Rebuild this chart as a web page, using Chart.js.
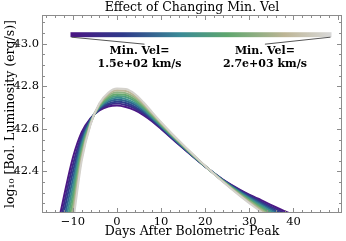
<!DOCTYPE html>
<html>
<head>
<meta charset="utf-8">
<script src="https://cdn.jsdelivr.net/npm/chart.js@4"></script>
<style>
  body { margin: 0; background: #fff; }
  #grafico { display: block; }
</style>
</head>
<body>
<canvas id="grafico" width="346" height="241"></canvas>
<script>
// dias depois do pico bolometrico
const dias = [-14, -12, -10, -8, -6, -4, -2, 0, 2, 4, 6, 8, 10, 12, 14, 16, 18, 20, 24, 28, 32, 36, 40, 44];

// log10 da luminosidade, uma curva por velocidade minima (1.5e2 -> 2.7e3 km/s)
const lumVel0 = [42.09, 42.285, 42.465, 42.585, 42.65, 42.687, 42.705, 42.71, 42.703, 42.688, 42.665, 42.635, 42.60, 42.563, 42.527, 42.491, 42.456, 42.423, 42.362, 42.313, 42.272, 42.232, 42.195, 42.158];
const lumVel1 = [42.047, 42.248, 42.431, 42.57, 42.647, 42.691, 42.712, 42.719, 42.712, 42.697, 42.672, 42.64, 42.604, 42.566, 42.529, 42.493, 42.457, 42.423, 42.361, 42.31, 42.266, 42.224, 42.185, 42.147];
const lumVel2 = [42.003, 42.211, 42.397, 42.555, 42.643, 42.694, 42.719, 42.728, 42.722, 42.705, 42.678, 42.645, 42.607, 42.569, 42.531, 42.494, 42.458, 42.424, 42.36, 42.306, 42.26, 42.216, 42.176, 42.135];
const lumVel3 = [41.96, 42.173, 42.363, 42.54, 42.64, 42.698, 42.727, 42.737, 42.731, 42.714, 42.685, 42.649, 42.611, 42.571, 42.533, 42.496, 42.459, 42.424, 42.359, 42.303, 42.255, 42.209, 42.166, 42.124];
const lumVel4 = [41.917, 42.136, 42.329, 42.525, 42.637, 42.702, 42.734, 42.746, 42.74, 42.722, 42.692, 42.654, 42.614, 42.574, 42.535, 42.497, 42.46, 42.424, 42.358, 42.30, 42.249, 42.201, 42.156, 42.112];
const lumVel5 = [41.873, 42.099, 42.296, 42.51, 42.633, 42.705, 42.741, 42.754, 42.75, 42.731, 42.698, 42.659, 42.618, 42.577, 42.538, 42.499, 42.461, 42.425, 42.356, 42.296, 42.243, 42.193, 42.147, 42.101];
const lumVel6 = [41.83, 42.062, 42.262, 42.495, 42.63, 42.709, 42.748, 42.763, 42.759, 42.739, 42.705, 42.664, 42.621, 42.58, 42.54, 42.50, 42.462, 42.425, 42.355, 42.293, 42.237, 42.185, 42.137, 42.09];
const lumVel7 = [41.787, 42.025, 42.228, 42.48, 42.627, 42.713, 42.756, 42.772, 42.768, 42.748, 42.712, 42.668, 42.625, 42.582, 42.542, 42.502, 42.463, 42.425, 42.354, 42.29, 42.232, 42.178, 42.127, 42.078];
const lumVel8 = [41.743, 41.988, 42.194, 42.465, 42.623, 42.716, 42.763, 42.781, 42.778, 42.756, 42.718, 42.673, 42.628, 42.585, 42.544, 42.503, 42.464, 42.426, 42.353, 42.286, 42.226, 42.17, 42.118, 42.067];
const lumVel9 = [41.7, 41.95, 42.16, 42.45, 42.62, 42.72, 42.77, 42.79, 42.787, 42.765, 42.725, 42.678, 42.632, 42.588, 42.546, 42.505, 42.465, 42.426, 42.352, 42.283, 42.22, 42.162, 42.108, 42.055];

// rotulos da barra de cores
const rotuloMin = ['Min. Vel=', '1.5e+02 km/s'];
const rotuloMax = ['Min. Vel=', '2.7e+03 km/s'];

const curvas = [lumVel0, lumVel1, lumVel2, lumVel3, lumVel4, lumVel5, lumVel6, lumVel7, lumVel8, lumVel9];
const cores = ['#4d1785', '#3d2a89', '#2e3f8b', '#2f6290', '#3b8a92', '#4f9c82', '#66aa70', '#92b384', '#bcb797', '#d4d2cc'];
const paradasCor = [[0, '#4b1583'], [0.2, '#2f3a8a'], [0.42, '#3a8a96'], [0.6, '#5ea66e'], [0.82, '#bdb595'], [1, '#d9d9d9']];

const fonte = 'DejaVu Serif';
const cinza = '#8c8c8c';

// ticks pra dentro em todos os lados + barra de cores
const extras = {
  id: 'extras',
  afterDatasetsDraw(chart) {
    const ctx = chart.ctx;
    const a = chart.chartArea;
    const sx = chart.scales.x, sy = chart.scales.y;
    ctx.save();
    ctx.strokeStyle = cinza;
    ctx.lineWidth = 1;
    ctx.strokeRect(a.left + 0.5, a.top + 0.5, a.right - a.left - 1, a.bottom - a.top - 1);
    ctx.beginPath();
    for (let d = Math.ceil(sx.min / 2) * 2; d <= sx.max; d += 2) {
      const px = Math.round(sx.getPixelForValue(d)) + 0.5;
      const len = d % 10 === 0 ? 5 : 3;
      ctx.moveTo(px, a.bottom); ctx.lineTo(px, a.bottom - len);
      ctx.moveTo(px, a.top); ctx.lineTo(px, a.top + len);
    }
    for (let n = Math.ceil(sy.min * 20); n <= sy.max * 20; n++) {
      const py = Math.round(sy.getPixelForValue(n / 20)) + 0.5;
      const len = n % 4 === 0 ? 5 : 3;
      ctx.moveTo(a.left, py); ctx.lineTo(a.left + len, py);
      ctx.moveTo(a.right, py); ctx.lineTo(a.right - len, py);
    }
    ctx.stroke();

    // barra de cores
    const w = a.right - a.left, h = a.bottom - a.top;
    const x0 = a.left + 0.095 * w, x1 = a.left + 0.965 * w;
    const y0 = a.top + 0.087 * h, y1 = a.top + 0.112 * h;
    const grad = ctx.createLinearGradient(x0, 0, x1, 0);
    paradasCor.forEach(p => grad.addColorStop(p[0], p[1]));
    ctx.fillStyle = grad;
    ctx.fillRect(x0, y0, x1 - x0, y1 - y0);

    const tx0 = a.left + 0.325 * w, tx1 = a.left + 0.743 * w;
    ctx.strokeStyle = '#555';
    ctx.beginPath();
    ctx.moveTo(x0 + 1, y1); ctx.lineTo(tx0 + 5, y1 + 7);
    ctx.moveTo(x1 - 1, y1); ctx.lineTo(tx1, y1 + 7);
    ctx.stroke();

    ctx.fillStyle = '#000';
    ctx.font = 'bold 11px "' + fonte + '"';
    ctx.textAlign = 'center';
    ctx.textBaseline = 'middle';
    ctx.fillText(rotuloMin[0], tx0, y1 + 14);
    ctx.fillText(rotuloMin[1], tx0, y1 + 27);
    ctx.fillText(rotuloMax[0], tx1, y1 + 14);
    ctx.fillText(rotuloMax[1], tx1, y1 + 27);
    ctx.restore();
  }
};

function menos(v) {
  return v < 0 ? '\u2212' + Math.abs(v) : '' + v;
}

const ctx = document.getElementById('grafico').getContext('2d');
const myChart = new Chart(ctx, {
  type: 'line',
  data: {
    datasets: curvas.map((lum, k) => ({
      data: dias.map((d, i) => ({ x: d, y: lum[i] })),
      borderColor: cores[k],
      borderWidth: 2,
      pointRadius: 0,
      fill: false,
      cubicInterpolationMode: 'monotone',
      clip: 0,
      order: curvas.length - k
    }))
  },
  options: {
    responsive: false,
    animation: false,
    devicePixelRatio: 1,
    layout: { padding: { left: 0, right: 4, top: 0, bottom: 0 } },
    plugins: {
      legend: { display: false },
      tooltip: { enabled: false },
      title: {
        display: true,
        fullSize: false,
        text: 'Effect of Changing Min. Vel',
        color: '#000',
        font: { family: fonte, size: 12.5, weight: 'normal' },
        padding: { top: 0, bottom: 0 }
      }
    },
    scales: {
      x: {
        type: 'linear',
        min: -17,
        max: 51,
        afterFit: s => { s.height = 28; },
        afterBuildTicks: s => { s.ticks = s.ticks.filter(t => t.value % 10 === 0); },
        ticks: {
          stepSize: 10,
          color: '#000',
          padding: 2,
          maxRotation: 0,
          font: { family: fonte, size: 11.5 },
          callback: v => menos(v)
        },
        grid: { display: false, drawTicks: false },
        border: { display: false },
        title: {
          display: true,
          text: 'Days After Bolometric Peak',
          color: '#000',
          font: { family: fonte, size: 12.5 },
          padding: { top: 0, bottom: 2 }
        }
      },
      y: {
        min: 42.205,
        max: 43.135,
        afterFit: s => { s.width = 42; },
        afterBuildTicks: s => {
          s.ticks = [42.4, 42.6, 42.8, 43.0].map(v => ({ value: v }));
        },
        ticks: {
          color: '#000',
          padding: 3,
          font: { family: fonte, size: 11.5 },
          callback: v => v.toFixed(1)
        },
        grid: { display: false, drawTicks: false },
        border: { display: false },
        title: {
          display: true,
          text: 'log\u2081\u2080 [Bol. Luminosity (erg/s)]',
          color: '#000',
          font: { family: fonte, size: 12.5 },
          padding: { top: 3, bottom: 0 }
        }
      }
    }
  },
  plugins: [extras]
});
</script>
</body>
</html>
